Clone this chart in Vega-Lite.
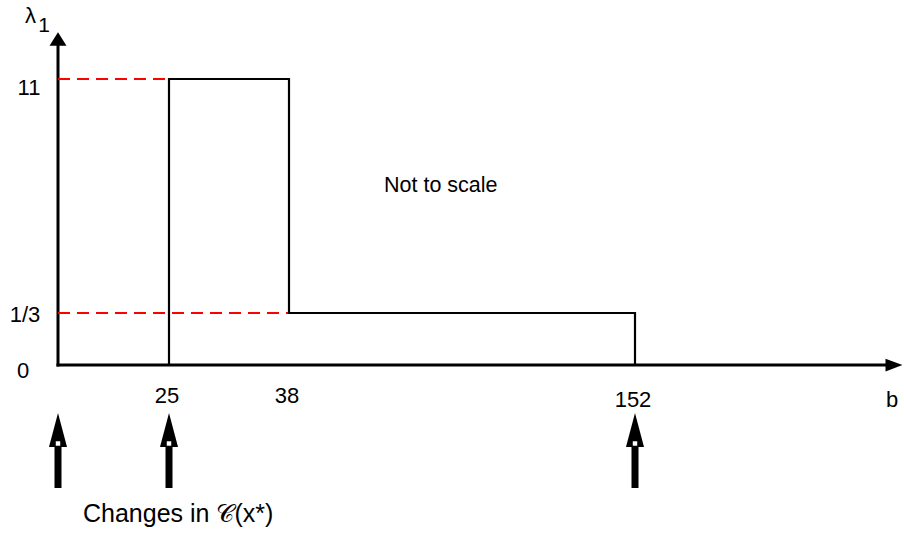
{
  "$schema": "https://vega.github.io/schema/vega-lite/v6.json",
  "width": 904,
  "height": 533,
  "padding": 0,
  "autosize": {"type": "none"},
  "background": "white",
  "config": {"view": {"stroke": null}, "text": {"font": "Liberation Sans", "color": "black"}},
  "datasets": {
    "step": [
      {"seq": 1, "b": 25, "lam": 0},
      {"seq": 2, "b": 25, "lam": 11},
      {"seq": 3, "b": 38, "lam": 11},
      {"seq": 4, "b": 38, "lam": 0.333333},
      {"seq": 5, "b": 152, "lam": 0.333333},
      {"seq": 6, "b": 152, "lam": 0}
    ],
    "guides": [
      {"b0": 0, "b": 25, "lam": 11},
      {"b0": 0, "b": 38, "lam": 0.333333}
    ],
    "axes": [
      {"b0": 0, "b1": 200, "l0": 0, "l1": 0},
      {"b0": 0, "b1": 0, "l0": 0, "l1": 13}
    ],
    "changes": [{"b": 0, "lam": 0}, {"b": 25, "lam": 0}, {"b": 152, "lam": 0}],
    "xlabels": [{"b": 25, "lam": 0, "label": "25"}, {"b": 38, "lam": 0, "label": "38"}],
    "xlabels2": [{"b": 152, "lam": 0, "label": "152"}, {"b": 200, "lam": 0, "label": "b"}]
  },
  "layer": [
    {
      "data": {"name": "axes"},
      "mark": {"type": "rule", "strokeWidth": 3, "color": "black", "strokeCap": "square"},
      "encoding": {
        "x": {"field": "b0", "type": "quantitative", "axis": null,
              "scale": {"type": "linear", "domain": [0, 25, 38, 152, 200], "range": [58, 169, 289, 635, 894], "zero": false, "nice": false}},
        "x2": {"field": "b1"},
        "y": {"field": "l0", "type": "quantitative", "axis": null,
              "scale": {"type": "linear", "domain": [0, 0.333333, 11, 13], "range": [365, 313, 79, 39], "zero": false, "nice": false}},
        "y2": {"field": "l1"}
      }
    },
    {
      "data": {"values": [{"b": 200, "lam": 0}]},
      "mark": {"type": "point", "shape": "M1,0L-1,-0.75L-1,0.75Z", "size": 289, "filled": true, "color": "black", "opacity": 1, "strokeWidth": 0},
      "encoding": {
        "x": {"field": "b", "type": "quantitative"},
        "y": {"field": "lam", "type": "quantitative"}
      }
    },
    {
      "data": {"values": [{"b": 0, "lam": 13}]},
      "mark": {"type": "point", "shape": "M0,-0.8L1,0.8L-1,0.8Z", "size": 289, "filled": true, "color": "black", "opacity": 1, "strokeWidth": 0},
      "encoding": {
        "x": {"field": "b", "type": "quantitative"},
        "y": {"field": "lam", "type": "quantitative"}
      }
    },
    {
      "data": {"name": "guides"},
      "mark": {"type": "rule", "color": "#ff0000", "strokeWidth": 2, "strokeDash": [12, 7]},
      "encoding": {
        "x": {"field": "b0", "type": "quantitative"},
        "x2": {"field": "b"},
        "y": {"field": "lam", "type": "quantitative"}
      }
    },
    {
      "data": {"name": "step"},
      "mark": {"type": "line", "color": "black", "strokeWidth": 2.2, "strokeCap": "butt", "strokeJoin": "miter"},
      "encoding": {
        "x": {"field": "b", "type": "quantitative"},
        "y": {"field": "lam", "type": "quantitative"},
        "order": {"field": "seq"}
      }
    },
    {
      "data": {"name": "changes"},
      "mark": {"type": "rule", "color": "black", "strokeWidth": 7, "yOffset": 82, "y2Offset": 123},
      "encoding": {
        "x": {"field": "b", "type": "quantitative"},
        "y": {"field": "lam", "type": "quantitative"},
        "y2": {"field": "lam"}
      }
    },
    {
      "data": {"name": "changes"},
      "mark": {"type": "point", "shape": "M0,-1L0.53,1L-0.53,1Z", "size": 1156, "filled": true, "color": "black", "opacity": 1, "strokeWidth": 0, "yOffset": 65},
      "encoding": {
        "x": {"field": "b", "type": "quantitative"},
        "y": {"field": "lam", "type": "quantitative"}
      }
    },
    {
      "data": {"name": "changes"},
      "mark": {"type": "point", "shape": "square", "size": 20, "filled": true, "color": "white", "opacity": 1, "strokeWidth": 0, "yOffset": 78.5},
      "encoding": {
        "x": {"field": "b", "type": "quantitative"},
        "y": {"field": "lam", "type": "quantitative"}
      }
    },
    {
      "data": {"values": [{"b": 0, "lam": 11, "label": "11"}]},
      "mark": {"type": "text", "fontSize": 22, "align": "center", "baseline": "alphabetic", "dx": -29, "dy": 16},
      "encoding": {
        "x": {"field": "b", "type": "quantitative"},
        "y": {"field": "lam", "type": "quantitative"},
        "text": {"field": "label"}
      }
    },
    {
      "data": {"values": [{"b": 0, "lam": 0.333333, "label": "1/3"}]},
      "mark": {"type": "text", "fontSize": 22, "align": "center", "baseline": "alphabetic", "dx": -33, "dy": 9},
      "encoding": {
        "x": {"field": "b", "type": "quantitative"},
        "y": {"field": "lam", "type": "quantitative"},
        "text": {"field": "label"}
      }
    },
    {
      "data": {"values": [{"b": 0, "lam": 0, "label": "0"}]},
      "mark": {"type": "text", "fontSize": 22, "align": "center", "baseline": "alphabetic", "dx": -35, "dy": 13},
      "encoding": {
        "x": {"field": "b", "type": "quantitative"},
        "y": {"field": "lam", "type": "quantitative"},
        "text": {"field": "label"}
      }
    },
    {
      "data": {"name": "xlabels"},
      "mark": {"type": "text", "fontSize": 22, "align": "center", "baseline": "alphabetic", "dx": -2, "dy": 38},
      "encoding": {
        "x": {"field": "b", "type": "quantitative"},
        "y": {"field": "lam", "type": "quantitative"},
        "text": {"field": "label"}
      }
    },
    {
      "data": {"name": "xlabels2"},
      "mark": {"type": "text", "fontSize": 22, "align": "center", "baseline": "alphabetic", "dx": -2, "dy": 42},
      "encoding": {
        "x": {"field": "b", "type": "quantitative"},
        "y": {"field": "lam", "type": "quantitative"},
        "text": {"field": "label"}
      }
    },
    {
      "data": {"values": [{"b": 0, "lam": 13, "label": "λ"}]},
      "mark": {"type": "text", "fontSize": 22, "align": "center", "baseline": "alphabetic", "dx": -27.5, "dy": -16},
      "encoding": {
        "x": {"field": "b", "type": "quantitative"},
        "y": {"field": "lam", "type": "quantitative"},
        "text": {"field": "label"}
      }
    },
    {
      "data": {"values": [{"b": 0, "lam": 13, "label": "1"}]},
      "mark": {"type": "text", "fontSize": 21, "align": "center", "baseline": "alphabetic", "dx": -14, "dy": -7},
      "encoding": {
        "x": {"field": "b", "type": "quantitative"},
        "y": {"field": "lam", "type": "quantitative"},
        "text": {"field": "label"}
      }
    },
    {
      "data": {"values": [{"b": 88, "lam": 5.85, "label": "Not to scale"}]},
      "mark": {"type": "text", "fontSize": 21.5, "align": "center", "baseline": "alphabetic"},
      "encoding": {
        "x": {"field": "b", "type": "quantitative"},
        "y": {"field": "lam", "type": "quantitative"},
        "text": {"field": "label"}
      }
    },
    {
      "data": {"values": [{"b": 0, "lam": 0, "label": "Changes in 𝒞(x*)"}]},
      "mark": {"type": "text", "fontSize": 25, "align": "left", "baseline": "alphabetic", "dx": 25, "dy": 157},
      "encoding": {
        "x": {"field": "b", "type": "quantitative"},
        "y": {"field": "lam", "type": "quantitative"},
        "text": {"field": "label"}
      }
    }
  ]
}
